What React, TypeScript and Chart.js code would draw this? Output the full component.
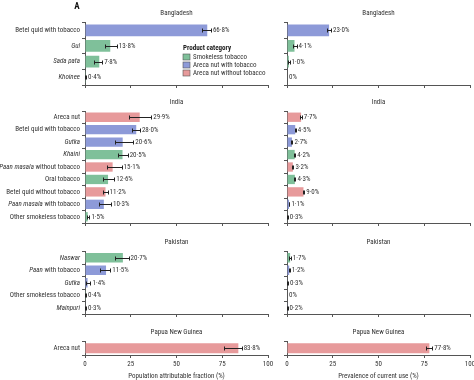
import React, { useEffect, useRef } from "react";
import { Chart, registerables } from "chart.js";
Chart.register(...registerables);

const FAMILY = '"Liberation Sans Narrow", "Roboto Condensed", "DejaVu Sans Condensed", "Liberation Sans", sans-serif';
const GREEN = "#7fc09a";
const BLUE = "#8d9ad8";
const RED = "#e79a9b";
const CAT_COLORS: Record<string, string> = { S: GREEN, W: BLUE, N: RED };
const AXIS = "#555";
const TEXT = "#333";

// Bangladesh
const bdProducts = ["Betel quid with tobacco", "*Gul*", "*Sada pata*", "*Khoinee*"];
const bdCategory = ["W", "S", "S", "S"];
const bdPaf = [66.8, 13.8, 7.8, 0.4];
const bdPafLow = [64.2, 10.8, 5.1, 0.2];
const bdPafHigh = [68.8, 17.4, 9.4, 0.6];
const bdPrev = [23.0, 4.1, 1.0, 0];
const bdPrevLow = [21.6, 3.4, 0.7, 0];
const bdPrevHigh = [24.0, 5.2, 1.4, 0];

// India
const inProducts = ["Areca nut", "Betel quid with tobacco", "*Gutka*", "*Khaini*", "*Paan masala* without tobacco", "Oral tobacco", "Betel quid without tobacco", "*Paan masala* with tobacco", "Other smokeless tobacco"];
const inCategory = ["N", "W", "W", "S", "N", "S", "N", "W", "S"];
const inPaf = [29.9, 28.0, 20.6, 20.5, 15.1, 12.6, 11.2, 10.3, 1.5];
const inPafLow = [24.3, 25.9, 16.5, 18.0, 12.0, 10.1, 9.6, 7.8, 1.0];
const inPafHigh = [36.2, 30.0, 26.4, 23.3, 20.0, 16.0, 12.3, 14.2, 2.4];
const inPrev = [7.7, 4.5, 2.7, 4.2, 3.2, 4.3, 9.0, 1.1, 0.3];
const inPrevLow = [7.3, 4.2, 2.4, 3.9, 2.9, 4.0, 8.6, 0.9, 0.2];
const inPrevHigh = [8.1, 4.8, 3.0, 4.5, 3.5, 4.6, 9.4, 1.3, 0.4];

// Pakistan
const pkProducts = ["*Naswar*", "*Paan* with tobacco", "*Gutka*", "Other smokeless tobacco", "*Mainpuri*"];
const pkCategory = ["S", "W", "W", "S", "W"];
const pkPaf = [20.7, 11.5, 1.4, 0.4, 0.3];
const pkPafLow = [16.5, 8.2, 0.8, 0.2, 0.1];
const pkPafHigh = [23.8, 13.8, 3.0, 0.6, 0.5];
const pkPrev = [1.7, 1.2, 0.3, 0, 0.2];
const pkPrevLow = [1.3, 0.9, 0.2, 0, 0.1];
const pkPrevHigh = [2.1, 1.5, 0.5, 0, 0.3];

// Papua New Guinea
const pgProducts = ["Areca nut"];
const pgCategory = ["N"];
const pgPaf = [83.8];
const pgPafLow = [75.9];
const pgPafHigh = [85.6];
const pgPrev = [77.8];
const pgPrevLow = [76.2];
const pgPrevHigh = [79.4];

const xTicks = [0, 25, 50, 75, 100];
const legendItems = ["Smokeless tobacco", "Areca nut with tobacco", "Areca nut without tobacco"];
const legendColors = [GREEN, BLUE, RED];

const panels = [
  { title: "Bangladesh", labels: bdProducts, cats: bdCategory, paf: [bdPaf, bdPafLow, bdPafHigh], prev: [bdPrev, bdPrevLow, bdPrevHigh], top: 22.5, bottom: 85, cTop: 0, cBottom: 96, last: false, first: true },
  { title: "India", labels: inProducts, cats: inCategory, paf: [inPaf, inPafLow, inPafHigh], prev: [inPrev, inPrevLow, inPrevHigh], top: 111, bottom: 223, cTop: 92, cBottom: 230, last: false, first: false },
  { title: "Pakistan", labels: pkProducts, cats: pkCategory, paf: [pkPaf, pkPafLow, pkPafHigh], prev: [pkPrev, pkPrevLow, pkPrevHigh], top: 251.5, bottom: 314, cTop: 232, cBottom: 320, last: false, first: false },
  { title: "Papua New Guinea", labels: pgProducts, cats: pgCategory, paf: [pgPaf, pgPafLow, pgPafHigh], prev: [pgPrev, pgPrevLow, pgPrevHigh], top: 341.5, bottom: 355, cTop: 326, cBottom: 380, last: true, first: false },
];

const columns = [
  { key: "paf", cLeft: 0, cRight: 274, areaLeft: 85, areaRight: 268, showLabels: true, axisTitle: "Population attributable fraction (%)" },
  { key: "prev", cLeft: 274, cRight: 474, areaLeft: 287, areaRight: 470, showLabels: false, axisTitle: "Prevalence of current use (%)" },
];

const fmt = (v: number) => (v === 0 ? "0%" : v.toFixed(1).replace(".", "\u00b7") + "%");
const font = (size = 7, style = "normal", weight = "normal") => `${style} ${weight} ${size}px ${FAMILY}`;

function drawMixed(ctx: CanvasRenderingContext2D, label: string, xRight: number, y: number) {
  const parts = label.split("*");
  const segs = parts.map((t, i) => ({ t, it: i % 2 === 1 })).filter((s) => s.t.length > 0);
  let total = 0;
  segs.forEach((s) => {
    ctx.font = font(7, s.it ? "italic" : "normal");
    total += ctx.measureText(s.t).width;
  });
  let x = xRight - total;
  ctx.textAlign = "left";
  segs.forEach((s) => {
    ctx.font = font(7, s.it ? "italic" : "normal");
    ctx.fillText(s.t, x, y);
    x += ctx.measureText(s.t).width;
  });
}

function makeConfig(p: any, col: any): any {
  const [vals, lo, hi] = col.key === "paf" ? p.paf : p.prev;
  const width = col.cRight - col.cLeft;
  const height = p.cBottom - p.cTop;
  const xh = p.last ? 14 : 3;
  const yw = 3;
  const plugin = {
    id: "panelDecor",
    afterDatasetsDraw(chart: any) {
      const ctx: CanvasRenderingContext2D = chart.ctx;
      const xs = chart.scales.x;
      const ys = chart.scales.y;
      const area = chart.chartArea;
      const meta = chart.getDatasetMeta(0);
      ctx.save();
      ctx.textBaseline = "middle";
      vals.forEach((v: number, i: number) => {
        const y = Math.round(meta.data[i].y) + 0.5;
        if (hi[i] > lo[i]) {
          const x1 = Math.round(xs.getPixelForValue(lo[i])) + 0.5;
          const x2 = Math.round(xs.getPixelForValue(hi[i])) + 0.5;
          ctx.strokeStyle = "#222";
          ctx.lineWidth = 1;
          ctx.beginPath();
          ctx.moveTo(x1, y);
          ctx.lineTo(x2, y);
          ctx.moveTo(x1, y - 2);
          ctx.lineTo(x1, y + 2);
          ctx.moveTo(x2, y - 2);
          ctx.lineTo(x2, y + 2);
          ctx.stroke();
        }
        ctx.fillStyle = TEXT;
        ctx.font = font(7);
        ctx.textAlign = "left";
        ctx.fillText(fmt(v), xs.getPixelForValue(Math.max(v, hi[i])) + 2, y);
      });
      if (col.showLabels) {
        ctx.fillStyle = TEXT;
        p.labels.forEach((l: string, i: number) => {
          drawMixed(ctx, l, area.left - 5, ys.getPixelForTick(i));
        });
      }
      ctx.fillStyle = TEXT;
      ctx.font = font(7);
      ctx.textAlign = "center";
      ctx.fillText(p.title, (area.left + area.right) / 2, area.top - 9);
      if (p.last) {
        ctx.fillText(col.axisTitle, (area.left + area.right) / 2, area.bottom + 21.5);
      }
      if (p.first && col.showLabels) {
        ctx.font = font(9, "normal", "bold");
        ctx.fillStyle = "#111";
        ctx.fillText("A", 77, 7);
        ctx.textAlign = "left";
        ctx.font = font(7, "normal", "bold");
        ctx.fillStyle = "#222";
        ctx.fillText("Product category", 183, 48.5);
        legendItems.forEach((t, i) => {
          const yy = 57 + i * 8;
          ctx.fillStyle = legendColors[i];
          ctx.fillRect(183, yy - 3, 7, 6);
          ctx.strokeStyle = "#555";
          ctx.lineWidth = 0.6;
          ctx.strokeRect(183, yy - 3, 7, 6);
          ctx.fillStyle = TEXT;
          ctx.font = font(7);
          ctx.fillText(t, 193, yy);
        });
      }
      ctx.restore();
    },
  };
  return {
    type: "bar",
    data: {
      labels: p.labels.map((l: string) => l.replace(/\*/g, "")),
      datasets: [
        {
          data: vals,
          backgroundColor: p.cats.map((c: string) => CAT_COLORS[c]),
          borderWidth: 0,
          barPercentage: 0.75,
          categoryPercentage: 1,
        },
      ],
    },
    options: {
      animation: false,
      responsive: false,
      maintainAspectRatio: false,
      devicePixelRatio: 1,
      indexAxis: "y",
      layout: {
        padding: {
          left: col.areaLeft - col.cLeft - yw,
          right: col.cRight - col.areaRight,
          top: p.top - p.cTop,
          bottom: p.cBottom - p.bottom - xh,
        },
      },
      plugins: { legend: { display: false }, tooltip: { enabled: false }, title: { display: false } },
      scales: {
        y: {
          type: "category",
          offset: true,
          grid: { display: true, offset: true, drawOnChartArea: false, drawTicks: true, tickLength: 3, color: AXIS, lineWidth: 1 },
          border: { display: true, color: AXIS, width: 1 },
          ticks: { display: false },
          afterFit: (s: any) => {
            s.width = yw;
            s.paddingTop = 0;
            s.paddingBottom = 0;
          },
        },
        x: {
          type: "linear",
          min: 0,
          max: 100,
          afterBuildTicks: (s: any) => {
            s.ticks = xTicks.map((v) => ({ value: v }));
          },
          ticks: { display: p.last, font: { family: FAMILY, size: 7 }, color: TEXT, padding: 2, maxRotation: 0, autoSkip: false },
          grid: { display: true, drawOnChartArea: false, drawTicks: true, tickLength: 3, color: AXIS, lineWidth: 1 },
          border: { display: true, color: AXIS, width: 1 },
          afterFit: (s: any) => {
            s.height = xh;
            s.paddingLeft = 0;
            s.paddingRight = 0;
          },
        },
      },
    },
    plugins: [plugin],
  };
}

const specs: any[] = [];
panels.forEach((p) => columns.forEach((c) => specs.push({ p, c })));

export default function App() {
  const refs = useRef<(HTMLCanvasElement | null)[]>([]);
  useEffect(() => {
    const charts = specs.map((s, i) => new Chart(refs.current[i] as HTMLCanvasElement, makeConfig(s.p, s.c)));
    return () => charts.forEach((c) => c.destroy());
  }, []);
  return (
    <div style={{ position: "absolute", left: 0, top: 0, width: 474, height: 380, background: "#fff", overflow: "hidden" }}>
      {specs.map((s, i) => (
        <canvas
          key={i}
          ref={(el) => {
            refs.current[i] = el;
          }}
          width={s.c.cRight - s.c.cLeft}
          height={s.p.cBottom - s.p.cTop}
          style={{ position: "absolute", left: s.c.cLeft, top: s.p.cTop, width: s.c.cRight - s.c.cLeft, height: s.p.cBottom - s.p.cTop }}
        />
      ))}
    </div>
  );
}
